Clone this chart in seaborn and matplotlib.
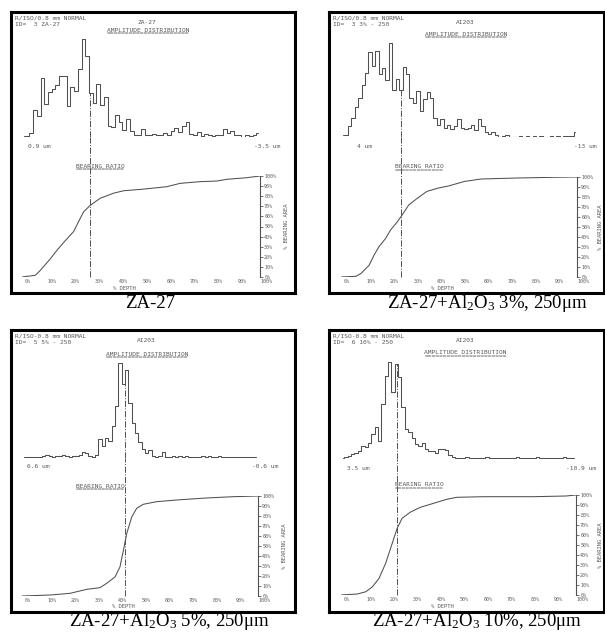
import numpy as np
import seaborn as sns
import matplotlib.pyplot as plt
from matplotlib.transforms import ScaledTranslation

# amplitude distribution, bar heights relative to the tallest bar (= 100), left to right
amp_za27 = [1, 1, 4, 28, 21, 60, 34, 46, 49, 53, 62, 62, 32, 51, 47, 69, 100, 83, 45, 35,
            54, 33, 41, 11, 10, 22, 15, 7, 18, 6, 2, 2, 8, 2, 2, 3, 2, 2, 4, 2,
            6, 9, 5, 11, 15, 3, 2, 5, 1, 3, 2, 1, 2, 2, 8, 4, 6, 2, 2, 0.5,
            2, 1, 2, 4]
amp_3pct = [2, 2, 12, 20, 32, 42, 55, 68, 90, 76, 92, 67, 73, 61, 100, 50, 62, 50, 74, 67,
            42, 36, 49, 28, 40, 48, 41, 20, 13, 19, 10, 13, 8, 12, 19, 10, 8, 10, 13, 7,
            19, 12, 5, 3, 5, 2, 0, 1, 2, 0, 0, 0, 1, 0, 1.5, 0, 1.5, 0, 1.5, 0,
            0, 1.5, 0, 1, 0, 1.5, 1, 1.5, 5]
amp_5pct = [1.5, 1, 1.5, 1, 1.5, 1, 2, 3, 2, 1.5, 2.5, 2, 3, 2, 1.5, 2, 2.5, 3, 6, 5,
            2, 1.5, 3, 20, 13, 21, 18, 34, 55, 100, 78, 93, 58, 37, 26, 17, 10, 5, 8, 2,
            1.5, 2, 6, 1.5, 1, 2, 1.5, 2, 1, 2, 1.5, 1, 1, 1, 2, 1.5, 2, 1, 1.5, 2,
            1, 1.5, 1, 1.5, 1, 1, 1, 1, 1, 1, 1]
amp_10pct = [1, 2.4, 3.4, 5, 6.5, 8.6, 13, 12, 17, 26, 33, 19, 57, 86, 100, 69, 98, 85, 54, 31,
             28, 22, 15, 13, 17, 10, 8, 8, 6, 10, 10, 9, 4, 2, 1, 1, 1, 2, 1, 1,
             1.5, 1, 1, 2, 1, 1, 1, 1.5, 1, 1, 1, 1, 2, 1, 1, 1.5, 1, 1, 2, 1,
             1, 1, 1, 1.5, 1, 1, 2, 1, 1, 1]

# bearing ratio curves (% depth -> % bearing area)
depth_za27 = [0, 5.6, 7.7, 11.9, 14.7, 18.2, 21.7, 23.8, 25.9, 28.7, 32.9, 38.5, 42.7, 51, 60.8, 66.4, 74.8, 81.8, 86, 94.4, 100]
area_za27 = [0, 1.7, 6.6, 18, 26.5, 36, 45, 55, 64.6, 71, 78, 83, 85.4, 87, 89.4, 92.7, 94.4, 95, 96.7, 98.3, 100]
depth_3pct = [0, 6.3, 8.4, 11.9, 14, 16, 18.9, 21, 23.8, 25.9, 28.7, 32.2, 36.4, 41.3, 45.5, 52.4, 59.4, 74.8, 90.2, 100]
area_3pct = [0, 0.7, 3.4, 11.7, 21.8, 30, 38.6, 47, 55, 62, 72, 78.5, 85.6, 89, 91, 95.6, 98, 99, 99.7, 100]
depth_5pct = [0, 12, 20.4, 27.5, 33, 35.9, 39.4, 41.5, 43, 44.4, 46.5, 48.6, 51.4, 57, 65.5, 78, 89.4, 100]
area_5pct = [0, 1, 2.7, 6.7, 8.3, 12.7, 19, 29, 46, 62.7, 79, 87.7, 91.7, 94.3, 96, 98, 99.3, 100]
depth_10pct = [0, 7, 10.6, 13.4, 16.2, 19, 21.8, 23.9, 26, 29.6, 33.8, 39.4, 45, 49.3, 60.6, 81.7, 95.8, 100]
area_10pct = [0, 1, 3.3, 8.3, 16.7, 31.7, 51.7, 66.7, 76.7, 83, 87.7, 91.7, 95.7, 97.7, 98.3, 98.3, 99, 100]

# depth of the dash-dot cursor line
cut_depth = [28.7, 25.5, 43.8, 24]

captions = ["ZA-27",
            "ZA-27+Al$_2$O$_3$ 3%, 250μm",
            "ZA-27+Al$_2$O$_3$ 5%, 250μm",
            "ZA-27+Al$_2$O$_3$ 10%, 250μm"]
hdr_ref = ["R/ISO/0.8 mm NORMAL", "R/ISO/0.8 mm NORMAL", "R/ISO-0.8 mm NORMAL", "R/ISO-0.8 mm NORMAL"]
hdr_id = ["ID=  3 ZA-27", "ID=  3 3% - 250", "ID=  5 5% - 250", "ID=  6 10% - 250"]
hdr_name = ["ZA-27", "AI203", "AI203", "AI203"]
amp_left = ["0.9 um", "4 um", "6.6 um", "3.5 um"]
amp_right = ["-3.5 um", "-13 um", "-0.6 um", "-10.9 um"]
pct = [0, 10, 20, 30, 40, 50, 60, 70, 80, 90, 100]

amps = [amp_za27, amp_3pct, amp_5pct, amp_10pct]
depths = [depth_za27, depth_3pct, depth_5pct, depth_10pct]
areas = [area_za27, area_3pct, area_5pct, area_10pct]

# layout in pixels (left, top, right, bottom)
W, H = 605, 639
frames = [(11, 12, 295, 293), (329, 12, 604, 293), (11, 330, 295, 612), (329, 330, 604, 612)]
hist_boxes = [(22, 39, 260, 137), (341, 43, 577, 137), (22, 363, 258, 458), (341, 362, 576, 459)]
bear_boxes = [(22, 176, 260, 277), (341, 177, 577, 277), (22, 496, 258, 596), (341, 495, 576, 595)]
cap_pos = [(150, 303), (487, 303), (169, 622), (477, 622)]
left_lab_off = [6, 16, 5, 6]
side_lab_off = [27, 24, 27, 24]

sns.set_style("white")
plt.rcParams["font.family"] = ["DejaVu Sans Mono"]
plt.rcParams["mathtext.fontset"] = "custom"
plt.rcParams["mathtext.rm"] = "Liberation Serif"
plt.rcParams["mathtext.it"] = "Liberation Serif:italic"

ink = "#505050"
txt = "#5a5a5a"


def box(l, t, r, b):
    return [l / W, 1 - b / H, (r - l) / W, (b - t) / H]


def ftext(x, y, s, **kw):
    kw.setdefault("fontsize", 4.5)
    kw.setdefault("color", txt)
    kw.setdefault("va", "center")
    fig.text(x / W, 1 - y / H, s, **kw)


fig = plt.figure(figsize=(W / 100, H / 100), dpi=100)
fig.patch.set_facecolor("white")

for i in range(4):
    fl, ft, fr, fb = frames[i]
    hl, ht, hr, hb = hist_boxes[i]
    bl, bt, br, bb = bear_boxes[i]

    # black frame round each printout
    fa = fig.add_axes(box(fl, ft, fr, fb))
    fa.set_xticks([])
    fa.set_yticks([])
    fa.patch.set_alpha(0)
    for s in fa.spines.values():
        s.set_visible(True)
        s.set_linewidth(2.2)
        s.set_color("black")

    # amplitude distribution
    vals = amps[i]
    n = len(vals)
    ax = fig.add_axes(box(hl, ht, hr, hb))
    ax.patch.set_alpha(0)
    sns.lineplot(x=np.arange(n), y=vals, drawstyle="steps-mid", color=ink, lw=0.75, ax=ax)
    ax.set_xlim(-0.5, n - 0.5)
    ax.set_ylim(0, 100)
    ax.axhline(0, color=ink, ls=(0, (1, 1.6)), lw=0.7)
    ax.set_xticks(np.linspace(-0.5, n - 0.5, 11))
    ax.tick_params(axis="x", length=2.5, width=0.6, direction="inout", color=ink, labelbottom=False)
    ax.set_yticks([])
    ax.set_xlabel("")
    ax.set_ylabel("")
    for s in ax.spines.values():
        s.set_visible(False)
    xh = cut_depth[i] / 100 * n - 0.5
    hh = vals[int(np.floor(xh + 0.5))]
    ax.vlines(xh, 0, hh, color=ink, ls="-.", lw=0.7)

    # bearing ratio curve
    bx = fig.add_axes(box(bl, bt, br, bb))
    bx.patch.set_alpha(0)
    sns.lineplot(x=depths[i], y=areas[i], color=ink, lw=0.75, ax=bx)
    bx.set_xlim(0, 100)
    bx.set_ylim(0, 100)
    for k, s in bx.spines.items():
        s.set_visible(k == "right")
    bx.spines["right"].set_color(ink)
    bx.spines["right"].set_linewidth(0.8)
    bx.axhline(0, color=ink, ls=(0, (1, 1.6)), lw=0.7)
    gap = (bt - hb) / (bb - bt)
    bx.axvline(cut_depth[i], ymin=0, ymax=1 + gap, color=ink, ls="-.", lw=0.7, clip_on=False)
    bx.yaxis.tick_right()
    bx.set_yticks(pct, [f"{v}%" for v in pct])
    bx.set_xticks(pct, [f"{v}%" for v in pct])
    bx.tick_params(axis="y", length=2, width=0.6, pad=1, labelsize=3.6, colors=txt)
    bx.tick_params(axis="x", length=2.5, width=0.6, direction="inout", pad=0.3, labelsize=3.6, colors=txt)
    bx.set_xlabel("")
    bx.set_ylabel("")
    shift = ScaledTranslation(6 / 100, 0, fig.dpi_scale_trans)
    for lab in bx.get_xticklabels():
        lab.set_transform(lab.get_transform() + shift)

    # printer texts
    ftext(fl + 4, ft + 6, hdr_ref[i])
    ftext(fl + 4, ft + 13, hdr_id[i])
    ftext(hl + 115, ft + 11, hdr_name[i])
    amp_cx = hl + 0.53 * (hr - hl)
    ftext(amp_cx, ht - 9, "AMPLITUDE DISTRIBUTION", ha="center")
    ftext(amp_cx, ht - 5, "=" * 22, ha="center")
    ftext(hl + left_lab_off[i], hb + 9, amp_left[i], ha="left")
    ftext(hr + 20, hb + 9, amp_right[i], ha="right")
    ftext(bl + 78, bt - 10, "BEARING RATIO", ha="center")
    ftext(bl + 78, bt - 6, "=" * 13, ha="center")
    ftext(bl + 0.43 * (br - bl), bb + 11, "% DEPTH", ha="center", fontsize=4)
    ftext(br + side_lab_off[i], (bt + bb) / 2, "% BEARING AREA", ha="center", rotation=90, fontsize=4)

    # caption under the printout
    cx, cy = cap_pos[i]
    ftext(cx, cy, captions[i], ha="center", fontsize=13.5, color="black", family="Liberation Serif")

fig.savefig("out.png", dpi=100, facecolor="white")
